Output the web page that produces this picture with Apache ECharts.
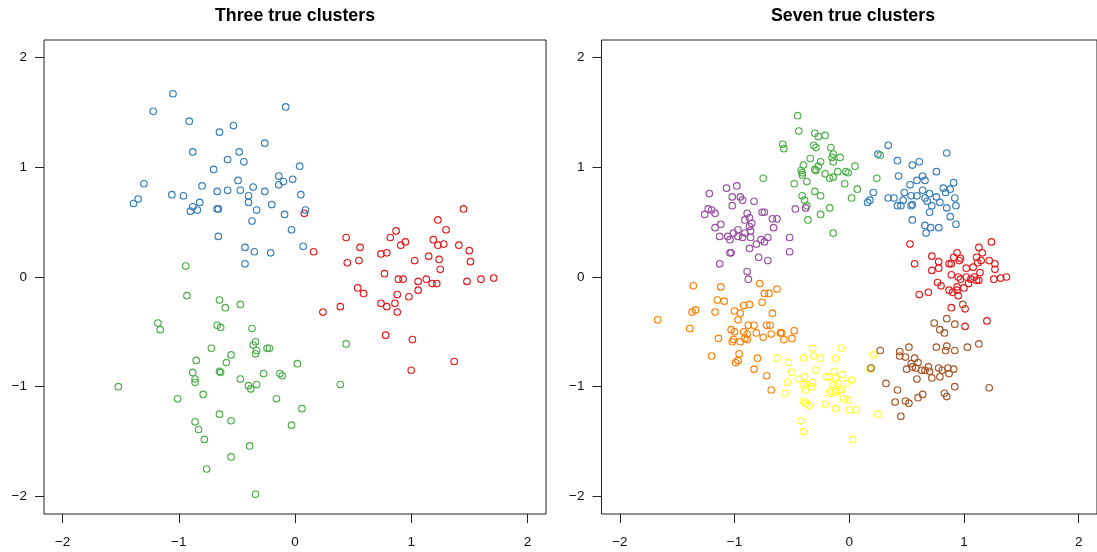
<!DOCTYPE html>
<html>
<head>
<meta charset="utf-8">
<script src="https://cdn.jsdelivr.net/npm/echarts@6/dist/echarts.min.js"></script>
<style>html,body{margin:0;padding:0;background:#fff}#c{width:1097px;height:552px}</style>
</head>
<body>
<div id="c"></div>
<script>
const titles = ['Three true clusters', 'Seven true clusters'];
const tickValues = [-2, -1, 0, 1, 2];

const leftBlue = [[-1.05,1.67],[-1.22,1.51],[-0.08,1.55],[-0.91,1.42],[-0.53,1.38],[-0.65,1.32],[-0.26,1.22],[-0.88,1.14],[-0.48,1.14],[-0.58,1.07],[-0.44,1.05],[0.04,1.01],[-0.70,0.98],[-0.14,0.92],[-1.30,0.85],[-0.49,0.88],[-0.10,0.87],[-0.02,0.89],[-0.14,0.84],[-0.80,0.83],[-0.36,0.82],[-0.67,0.78],[-0.58,0.79],[-0.47,0.79],[-0.26,0.78],[-1.35,0.71],[-1.39,0.67],[-1.06,0.75],[-0.96,0.74],[0.05,0.75],[-0.40,0.74],[-0.82,0.68],[-0.40,0.68],[-0.20,0.66],[-0.88,0.64],[-0.90,0.60],[-0.84,0.61],[-0.67,0.62],[-0.66,0.62],[-0.33,0.61],[0.09,0.61],[-0.09,0.57],[-0.37,0.51],[-0.03,0.43],[-0.66,0.37],[0.07,0.28],[-0.43,0.27],[-0.35,0.23],[-0.21,0.22],[-0.43,0.12]];
const leftGreen = [[-0.94,0.10],[-0.93,-0.17],[-0.65,-0.21],[-0.60,-0.28],[-0.47,-0.25],[-1.18,-0.42],[-1.16,-0.48],[-0.67,-0.44],[-0.64,-0.46],[-0.37,-0.47],[-0.72,-0.65],[-0.36,-0.62],[-0.34,-0.59],[-0.33,-0.67],[-0.34,-0.70],[-0.24,-0.65],[-0.22,-0.65],[-0.55,-0.71],[-0.85,-0.76],[-0.59,-0.78],[0.02,-0.79],[-0.88,-0.87],[-0.65,-0.86],[-0.64,-0.87],[-0.86,-0.93],[-0.86,-0.96],[-0.27,-0.88],[-0.13,-0.88],[-0.11,-0.90],[-0.47,-0.93],[-1.52,-1.00],[-0.40,-0.99],[-0.38,-1.02],[-0.33,-0.98],[-1.01,-1.11],[-0.79,-1.07],[-0.16,-1.11],[0.06,-1.20],[-0.65,-1.25],[-0.55,-1.31],[-0.86,-1.32],[-0.83,-1.39],[-0.03,-1.35],[-0.78,-1.48],[-0.39,-1.54],[-0.55,-1.64],[-0.76,-1.75],[-0.34,-1.98],[0.44,-0.61],[0.39,-0.98]];
const leftRed = [[1.45,0.62],[1.23,0.52],[1.30,0.43],[0.87,0.42],[0.82,0.36],[0.44,0.36],[0.08,0.58],[0.95,0.32],[0.91,0.29],[1.19,0.34],[1.23,0.29],[1.28,0.30],[1.41,0.29],[1.50,0.24],[0.56,0.27],[0.16,0.23],[0.74,0.21],[0.79,0.22],[1.15,0.19],[1.24,0.16],[1.51,0.14],[0.45,0.13],[0.55,0.15],[1.03,0.15],[1.25,0.07],[0.77,0.03],[0.89,-0.02],[0.93,-0.02],[1.06,-0.04],[1.13,-0.02],[1.18,-0.06],[1.22,-0.06],[1.48,-0.04],[1.60,-0.02],[1.71,-0.01],[0.54,-0.10],[0.59,-0.15],[1.06,-0.12],[0.88,-0.16],[0.98,-0.18],[0.39,-0.27],[0.24,-0.32],[0.74,-0.24],[0.86,-0.24],[0.79,-0.27],[0.88,-0.32],[0.78,-0.53],[1.01,-0.57],[1.37,-0.77],[1.00,-0.85]];

const rightBlue = [[0.34,1.20],[0.25,1.12],[0.85,1.13],[0.42,1.06],[0.61,1.05],[0.55,1.02],[0.76,0.96],[0.43,0.92],[0.64,0.92],[0.59,0.88],[0.66,0.88],[0.91,0.86],[0.53,0.84],[0.82,0.81],[0.88,0.80],[0.84,0.77],[0.64,0.79],[0.48,0.77],[0.70,0.76],[0.59,0.74],[0.54,0.74],[0.76,0.73],[0.21,0.77],[0.34,0.72],[0.39,0.72],[0.66,0.72],[0.92,0.72],[0.18,0.70],[0.16,0.68],[0.47,0.70],[0.68,0.69],[0.79,0.68],[0.42,0.65],[0.45,0.65],[0.54,0.65],[0.55,0.66],[0.72,0.65],[0.85,0.63],[0.93,0.65],[0.70,0.59],[0.88,0.55],[0.55,0.52],[0.66,0.47],[0.71,0.45],[0.78,0.45],[0.93,0.48],[0.67,0.40]];
const rightGreen = [[-0.45,1.47],[-0.44,1.33],[-0.30,1.31],[-0.27,1.28],[-0.21,1.29],[-0.58,1.21],[-0.57,1.17],[-0.31,1.20],[-0.29,1.18],[-0.16,1.18],[-0.14,1.12],[-0.15,1.09],[-0.34,1.08],[-0.25,1.05],[-0.14,1.05],[-0.40,1.02],[-0.27,1.01],[-0.42,0.97],[-0.30,0.98],[-0.29,0.97],[-0.41,0.93],[-0.41,0.95],[-0.21,0.94],[-0.17,0.90],[-0.14,0.91],[-0.37,0.87],[-0.75,0.90],[-0.48,0.85],[-0.30,0.78],[-0.25,0.74],[-0.41,0.74],[-0.39,0.70],[-0.37,0.65],[-0.17,0.63],[-0.25,0.57],[-0.36,0.52],[-0.14,0.40],[-0.10,0.96],[-0.08,1.09],[-0.03,0.96],[-0.01,0.95],[0.05,1.01],[-0.04,0.85],[0.07,0.80],[0.02,0.72],[0.24,0.90],[0.27,1.11]];
const rightPurple = [[-1.22,0.76],[-1.07,0.81],[-0.98,0.83],[-1.02,0.73],[-0.95,0.73],[-0.93,0.70],[-0.83,0.69],[-1.02,0.65],[-1.23,0.62],[-1.20,0.61],[-1.26,0.57],[-1.17,0.58],[-0.89,0.58],[-0.76,0.59],[-0.74,0.59],[-0.47,0.62],[-0.38,0.63],[-0.91,0.52],[-0.87,0.54],[-0.85,0.49],[-0.67,0.53],[-0.63,0.53],[-1.12,0.48],[-1.17,0.45],[-0.87,0.46],[-0.66,0.45],[-0.97,0.43],[-0.86,0.42],[-1.01,0.40],[-0.91,0.40],[-1.13,0.37],[-1.06,0.37],[-0.97,0.37],[-0.93,0.36],[-0.86,0.36],[-1.04,0.34],[-0.77,0.34],[-0.71,0.36],[-0.74,0.32],[-0.81,0.30],[-0.52,0.36],[-0.87,0.26],[-1.04,0.22],[-1.03,0.22],[-0.52,0.23],[-0.79,0.18],[-0.71,0.15],[-1.13,0.12],[-0.89,0.05],[-0.88,-0.02]];
const rightOrange = [[-1.36,-0.08],[-1.12,-0.09],[-0.78,-0.06],[-0.74,-0.15],[-0.70,-0.15],[-0.63,-0.11],[-1.15,-0.21],[-1.09,-0.22],[-0.76,-0.23],[-1.37,-0.32],[-1.34,-0.30],[-1.17,-0.32],[-1.00,-0.31],[-0.95,-0.33],[-0.92,-0.26],[-0.87,-0.25],[-0.67,-0.33],[-1.67,-0.39],[-0.97,-0.39],[-1.39,-0.47],[-0.88,-0.44],[-0.83,-0.44],[-0.72,-0.44],[-0.69,-0.44],[-1.03,-0.48],[-1.00,-0.50],[-0.92,-0.50],[-0.89,-0.52],[-0.81,-0.51],[-0.68,-0.52],[-0.60,-0.51],[-0.59,-0.51],[-0.48,-0.49],[-1.14,-0.56],[-1.01,-0.57],[-1.02,-0.59],[-0.95,-0.59],[-0.91,-0.56],[-0.89,-0.57],[-0.75,-0.55],[-0.57,-0.57],[-0.50,-0.56],[-1.20,-0.72],[-0.96,-0.70],[-0.97,-0.76],[-0.99,-0.78],[-0.80,-0.74],[-0.83,-0.84],[-0.72,-0.90],[-0.68,-1.03]];
const rightYellow = [[-0.32,-0.65],[-0.63,-0.74],[-0.53,-0.78],[-0.40,-0.74],[-0.31,-0.72],[-0.25,-0.74],[-0.12,-0.74],[-0.29,-0.85],[-0.50,-0.87],[-0.13,-0.86],[-0.44,-0.93],[-0.39,-0.91],[-0.20,-0.91],[-0.18,-0.91],[-0.12,-0.92],[-0.54,-0.96],[-0.32,-0.96],[-0.40,-0.98],[-0.37,-0.98],[-0.38,-1.03],[-0.33,-1.00],[-0.17,-1.04],[-0.16,-1.06],[-0.12,-1.05],[-0.56,-1.06],[-0.40,-1.13],[-0.38,-1.15],[-0.35,-1.17],[-0.21,-1.16],[-0.12,-1.20],[-0.42,-1.31],[-0.40,-1.41],[-0.07,-0.65],[0.21,-0.71],[0.18,-0.84],[0.25,-1.25],[-0.06,-0.89],[-0.02,-0.97],[0.02,-0.94],[-0.10,-0.97],[-0.14,-0.98],[-0.09,-1.04],[-0.07,-1.03],[-0.05,-1.11],[-0.01,-1.12],[0.00,-1.21],[0.06,-1.21],[0.03,-1.48]];
const rightRed = [[0.53,0.30],[0.72,0.19],[0.57,0.12],[0.78,0.14],[0.72,0.06],[0.78,0.08],[0.91,0.18],[0.94,0.22],[0.97,0.17],[0.96,0.15],[0.87,0.12],[0.89,0.12],[1.13,0.27],[1.16,0.22],[1.24,0.32],[1.11,0.18],[1.15,0.15],[1.12,0.13],[1.08,0.09],[1.22,0.15],[1.27,0.12],[1.27,0.07],[1.02,0.08],[1.14,0.04],[0.89,0.02],[0.95,0.00],[0.97,-0.02],[1.02,0.00],[1.06,-0.02],[1.09,0.00],[1.11,-0.03],[1.13,-0.03],[1.26,-0.02],[1.32,-0.01],[1.37,0.00],[0.77,-0.05],[0.80,-0.08],[1.04,-0.06],[1.00,-0.10],[0.94,-0.09],[0.87,-0.12],[0.90,-0.14],[0.94,-0.12],[0.69,-0.14],[0.61,-0.16],[0.95,-0.17],[0.89,-0.28],[1.01,-0.29],[1.20,-0.40],[1.01,-0.45]];
const rightBrown = [[0.99,-0.25],[0.85,-0.38],[0.74,-0.42],[0.92,-0.43],[0.79,-0.48],[0.83,-0.51],[0.76,-0.64],[0.85,-0.63],[0.84,-0.67],[0.92,-0.67],[1.03,-0.64],[1.13,-0.61],[0.52,-0.64],[0.27,-0.67],[0.44,-0.68],[0.44,-0.72],[0.49,-0.73],[0.57,-0.74],[0.60,-0.78],[0.54,-0.79],[0.55,-0.82],[0.50,-0.84],[0.58,-0.83],[0.63,-0.85],[0.66,-0.85],[0.69,-0.82],[0.70,-0.86],[0.78,-0.83],[0.81,-0.85],[0.86,-0.83],[0.91,-0.84],[0.87,-0.88],[0.72,-0.92],[0.79,-0.91],[0.59,-0.93],[0.19,-0.83],[0.32,-0.97],[0.42,-1.03],[0.92,-1.00],[1.22,-1.01],[0.83,-1.06],[0.85,-1.09],[0.64,-1.07],[0.60,-1.10],[0.49,-1.13],[0.52,-1.15],[0.40,-1.14],[0.45,-1.27]];

const COLORS = {red:'#E41A1C', blue:'#377EB8', green:'#4DAF4A', purple:'#984EA3', orange:'#FF7F00', yellow:'#FFFF33', brown:'#A65628'};
const FONT = '"Liberation Sans", Arial, Helvetica, sans-serif';
const fmt = v => String(v).replace('-', '\u2212');

function scatter(data, color, idx) {
  return {
    type: 'scatter', xAxisIndex: idx, yAxisIndex: idx, data: data,
    symbol: 'circle', symbolSize: 6.6, silent: true, animation: false,
    itemStyle: {color: 'rgba(0,0,0,0)', borderColor: color, borderWidth: 1.1, opacity: 1}
  };
}
function xAx(idx) {
  return {
    gridIndex: idx, type: 'value', min: -2.16, max: 2.16,
    axisLine: {show: false, onZero: false}, splitLine: {show: false},
    axisTick: {show: true, inside: false, length: 9, customValues: tickValues, lineStyle: {color: '#222', width: 1}},
    axisLabel: {customValues: tickValues, formatter: fmt, margin: 21, fontSize: 13.5, color: '#111', fontFamily: FONT}
  };
}
function yAx(idx) {
  return {
    gridIndex: idx, type: 'value', min: -2.16, max: 2.16,
    axisLine: {show: false, onZero: false}, splitLine: {show: false},
    axisTick: {show: true, inside: false, length: 9, customValues: tickValues, lineStyle: {color: '#222', width: 1}},
    axisLabel: {customValues: tickValues, formatter: fmt, margin: 17, fontSize: 13.5, color: '#111', fontFamily: FONT}
  };
}

const chart = echarts.init(document.getElementById('c'), null, {renderer: 'canvas'});
chart.setOption({
  animation: false,
  backgroundColor: '#fff',
  title: [
    {text: titles[0], left: 295, top: 7, textAlign: 'center', padding: 0,
     textStyle: {fontSize: 17.8, fontWeight: 'bold', color: '#000', fontFamily: FONT}},
    {text: titles[1], left: 853, top: 7, textAlign: 'center', padding: 0,
     textStyle: {fontSize: 17.8, fontWeight: 'bold', color: '#000', fontFamily: FONT}}
  ],
  grid: [
    {left: 44, top: 40, width: 502, height: 474, show: true, borderColor: '#222', borderWidth: 1, backgroundColor: 'transparent'},
    {left: 601.5, top: 40, width: 502, height: 474, show: true, borderColor: '#222', borderWidth: 1, backgroundColor: 'transparent'}
  ],
  xAxis: [xAx(0), xAx(1)],
  yAxis: [yAx(0), yAx(1)],
  series: [
    scatter(leftRed, COLORS.red, 0),
    scatter(leftBlue, COLORS.blue, 0),
    scatter(leftGreen, COLORS.green, 0),
    scatter(rightRed, COLORS.red, 1),
    scatter(rightBlue, COLORS.blue, 1),
    scatter(rightGreen, COLORS.green, 1),
    scatter(rightPurple, COLORS.purple, 1),
    scatter(rightOrange, COLORS.orange, 1),
    scatter(rightYellow, COLORS.yellow, 1),
    scatter(rightBrown, COLORS.brown, 1)
  ]
});
</script>
</body>
</html>
